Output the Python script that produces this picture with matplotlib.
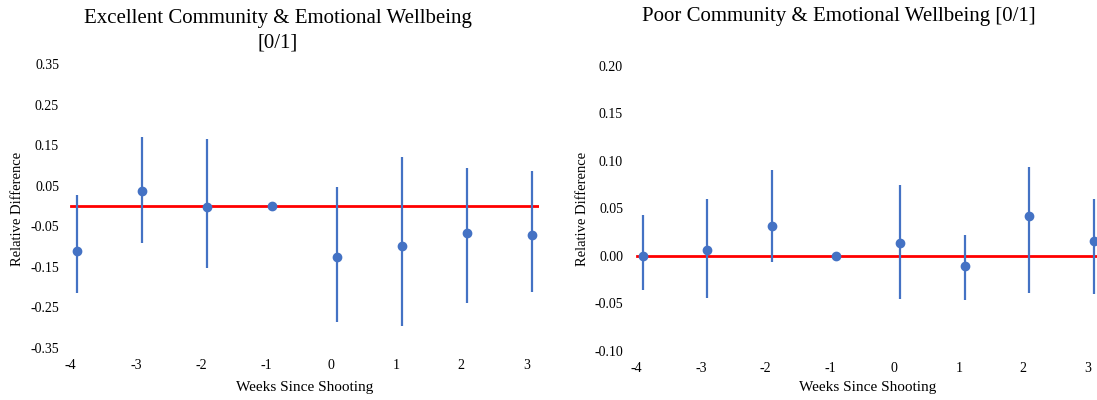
import matplotlib
matplotlib.use("Agg")
import matplotlib.pyplot as plt
import matplotlib.transforms as mtransforms
import numpy as np

# Event-study estimates by week relative to the shooting
weeks = [-4, -3, -2, -1, 0, 1, 2, 3]
week_labels = ["-4", "-3", "-2", "-1", "0", "1", "2", "3"]

excellent_est = [-0.111, 0.038, -0.003, 0.000, -0.126, -0.098, -0.067, -0.072]
excellent_lo = [-0.214, -0.092, -0.154, 0.000, -0.285, -0.297, -0.240, -0.211]
excellent_hi = [0.027, 0.171, 0.165, 0.000, 0.046, 0.120, 0.094, 0.086]

poor_est = [0.000, 0.0063, 0.032, 0.000, 0.0137, -0.0105, 0.0418, 0.016]
poor_lo = [-0.036, -0.044, -0.0066, 0.000, -0.045, -0.0466, -0.039, -0.040]
poor_hi = [0.043, 0.060, 0.091, 0.000, 0.075, 0.0224, 0.094, 0.060]

excellent_yticks = [0.35, 0.25, 0.15, 0.05, -0.05, -0.15, -0.25, -0.35]
poor_yticks = [0.20, 0.15, 0.10, 0.05, 0.00, -0.05, -0.10]

BLUE = "#4472C4"
RED = "#FF0000"
SERIF = "Liberation Serif"

W, H = 1097, 400
fig = plt.figure(figsize=(W / 100, H / 100), dpi=100)
fig.patch.set_facecolor("white")


def px_rect(x0, y0, x1, y1):
    return [x0 / W, 1 - y1 / H, (x1 - x0) / W, (y1 - y0) / H]


def draw_panel(ax, est, lo, hi, yticks, yfmt, xlim, ylim, line_start):
    est = np.array(est)
    lo = np.array(lo)
    hi = np.array(hi)
    ax.set_xlim(*xlim)
    ax.set_ylim(*ylim)
    frac = (line_start - xlim[0]) / (xlim[1] - xlim[0])
    ax.axhline(0, xmin=frac, xmax=1, color=RED, lw=2.0, zorder=1)
    ax.errorbar(weeks, est, yerr=[est - lo, hi - est], fmt="o", color=BLUE,
                ecolor=BLUE, elinewidth=1.6, ms=6.0, capsize=0, zorder=2)
    for s in ax.spines.values():
        s.set_visible(False)
    ax.set_xticks(weeks)
    ax.set_xticklabels(week_labels)
    ax.set_yticks(yticks)
    ax.set_yticklabels([yfmt.format(v).replace("\u2212", "-") for v in yticks])
    ax.tick_params(length=0, labelsize=10, pad=8, axis="x")
    ax.tick_params(length=0, labelsize=10, pad=5, axis="y")
    shift = mtransforms.ScaledTranslation(-6 / 100, 0, fig.dpi_scale_trans)
    for lab in ax.get_xticklabels():
        lab.set_transform(lab.get_transform() + shift)
    for lab in ax.get_xticklabels() + ax.get_yticklabels():
        lab.set_fontfamily(SERIF)
    ax.set_facecolor("white")


ax1 = fig.add_axes(px_rect(66, 64, 539, 348))
draw_panel(ax1, excellent_est, excellent_lo, excellent_hi, excellent_yticks,
           "{:.2f}", (-4.164, 3.101), (-0.35, 0.35), -4.09)

ax2 = fig.add_axes(px_rect(630, 66, 1097, 351))
draw_panel(ax2, poor_est, poor_lo, poor_hi, poor_yticks,
           "{:.2f}", (-4.196, 3.051), (-0.10, 0.20), -4.09)

fig.text(278 / W, 1 - 31 / H, "Excellent Community & Emotional Wellbeing\n[0/1]",
         ha="center", va="center", fontsize=15, family=SERIF, linespacing=1.42)
fig.text(839 / W, 1 - 16 / H, "Poor Community & Emotional Wellbeing [0/1]",
         ha="center", va="center", fontsize=15, family=SERIF)

for cx in (304.5, 868):
    fig.text(cx / W, 1 - 387 / H, "Weeks Since Shooting", ha="center", va="center",
             fontsize=11, family=SERIF)
for cx in (17.5, 582):
    fig.text(cx / W, 1 - 209 / H, "Relative Difference", ha="center", va="center",
             rotation=90, fontsize=10.5, family=SERIF)

fig.savefig("out.png", dpi=100, facecolor="white")
